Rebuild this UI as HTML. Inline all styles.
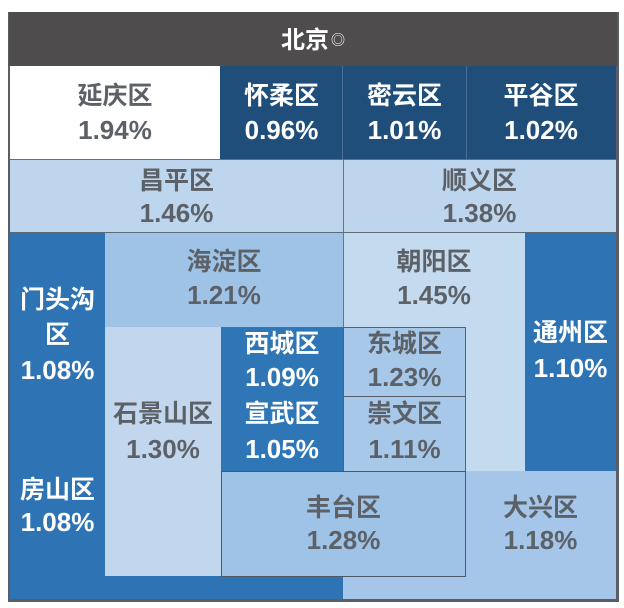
<!DOCTYPE html>
<html><head><meta charset="utf-8">
<style>
html,body{margin:0;padding:0;background:#fff;}
body{width:624px;height:608px;position:relative;overflow:hidden;font-family:"Liberation Sans","Noto Sans CJK SC",sans-serif;}
.r{position:absolute;box-sizing:border-box;}
.t{position:absolute;text-align:center;font-weight:bold;font-size:25px;line-height:33px;color:#5c6168;white-space:nowrap;}
.n{font-size:26px;}
.w{color:#fff;}
</style></head><body>
<!-- frame -->
<div class="r" style="left:8px;top:12px;width:611px;height:590px;background:#5a5d63;"></div>
<!-- header -->
<div class="r" style="left:9px;top:12px;width:608px;height:54px;background:#4e4c4d;"></div>
<div class="t w" style="left:9px;top:24px;width:608px;font-size:24px;line-height:32px;">北京<span style="font-size:14px;font-weight:normal;vertical-align:3px;margin-left:2px;">◎</span></div>
<!-- row1 -->
<div class="r" style="left:10px;top:66px;width:210px;height:93px;background:#ffffff;"></div>
<div class="r" style="left:220px;top:66px;width:396px;height:93px;background:#1f4e7b;"></div>
<div class="r" style="left:342px;top:66px;width:1px;height:93px;background:#4a7099;"></div>
<div class="r" style="left:466px;top:66px;width:1px;height:93px;background:#4a7099;"></div>
<!-- row2 -->
<div class="r" style="left:10px;top:159px;width:606px;height:1px;background:#66707c;"></div>
<div class="r" style="left:10px;top:160px;width:606px;height:72px;background:#bdd6ee;"></div>
<div class="r" style="left:343px;top:160px;width:1px;height:72px;background:#6a7686;"></div>
<div class="r" style="left:10px;top:232px;width:606px;height:1px;background:#5d6a78;"></div>
<!-- lower region -->
<div class="r" style="left:10px;top:233px;width:606px;height:366px;background:#2e74b5;"></div>
<!-- 海淀 -->
<div class="r" style="left:105px;top:233px;width:238px;height:94px;background:#9fc3e6;"></div>
<!-- 朝阳 -->
<div class="r" style="left:343px;top:233px;width:182px;height:238px;background:#c4daef;border-left:1px solid #6a7686;"></div>
<!-- 石景山 -->
<div class="r" style="left:105px;top:327px;width:116px;height:249px;background:#c2d7ee;"></div>
<!-- 西城/宣武 -->
<div class="r" style="left:221px;top:327px;width:122px;height:144px;background:#2f76b7;"></div>
<!-- 东城 -->
<div class="r" style="left:343px;top:327px;width:123px;height:70px;background:#a8c8e9;border:1px solid #56606c;border-bottom:none;"></div>
<!-- 崇文 -->
<div class="r" style="left:343px;top:396px;width:123px;height:75px;background:#a8c8e9;border:1px solid #56606c;border-bottom:none;"></div>
<!-- 大兴 -->
<div class="r" style="left:465px;top:471px;width:151px;height:128px;background:#a5c6e9;"></div>
<div class="r" style="left:343px;top:576px;width:273px;height:23px;background:#a5c6e9;"></div>
<!-- 丰台 -->
<div class="r" style="left:221px;top:471px;width:245px;height:106px;background:#9fc3e7;border:1px solid #4f5a66;"></div>

<!-- labels -->
<div class="t" style="left:10px;top:79px;width:210px;line-height:34px;">延庆区<br><span class="n">1.94%</span></div>
<div class="t w" style="left:220px;top:79px;width:123px;line-height:34px;">怀柔区<br><span class="n">0.96%</span></div>
<div class="t w" style="left:343px;top:79px;width:123px;line-height:34px;">密云区<br><span class="n">1.01%</span></div>
<div class="t w" style="left:466px;top:79px;width:150px;line-height:34px;">平谷区<br><span class="n">1.02%</span></div>
<div class="t" style="left:10px;top:165px;width:333px;line-height:32px;">昌平区<br><span class="n">1.46%</span></div>
<div class="t" style="left:343px;top:165px;width:273px;line-height:32px;">顺义区<br><span class="n">1.38%</span></div>
<div class="t" style="left:105px;top:246px;width:238px;">海淀区<br><span class="n">1.21%</span></div>
<div class="t" style="left:343px;top:246px;width:182px;">朝阳区<br><span class="n">1.45%</span></div>
<div class="t w" style="left:10px;top:283px;width:95px;line-height:35px;">门头沟<br>区<br><span class="n">1.08%</span></div>
<div class="t w" style="left:221px;top:328px;width:122px;">西城区<br><span class="n">1.09%</span></div>
<div class="t w" style="left:221px;top:397px;width:122px;line-height:35px;">宣武区<br><span class="n">1.05%</span></div>
<div class="t" style="left:343px;top:328px;width:123px;">东城区<br><span class="n">1.23%</span></div>
<div class="t" style="left:343px;top:397px;width:123px;line-height:35px;">崇文区<br><span class="n">1.11%</span></div>
<div class="t w" style="left:525px;top:316px;width:91px;line-height:35px;">通州区<br><span class="n">1.10%</span></div>
<div class="t" style="left:105px;top:397px;width:116px;line-height:35px;">石景山区<br><span class="n">1.30%</span></div>
<div class="t w" style="left:10px;top:474px;width:95px;line-height:32px;">房山区<br><span class="n">1.08%</span></div>
<div class="t" style="left:221px;top:492px;width:245px;line-height:32px;">丰台区<br><span class="n">1.28%</span></div>
<div class="t" style="left:465px;top:492px;width:151px;line-height:32px;">大兴区<br><span class="n">1.18%</span></div>
</body></html>
